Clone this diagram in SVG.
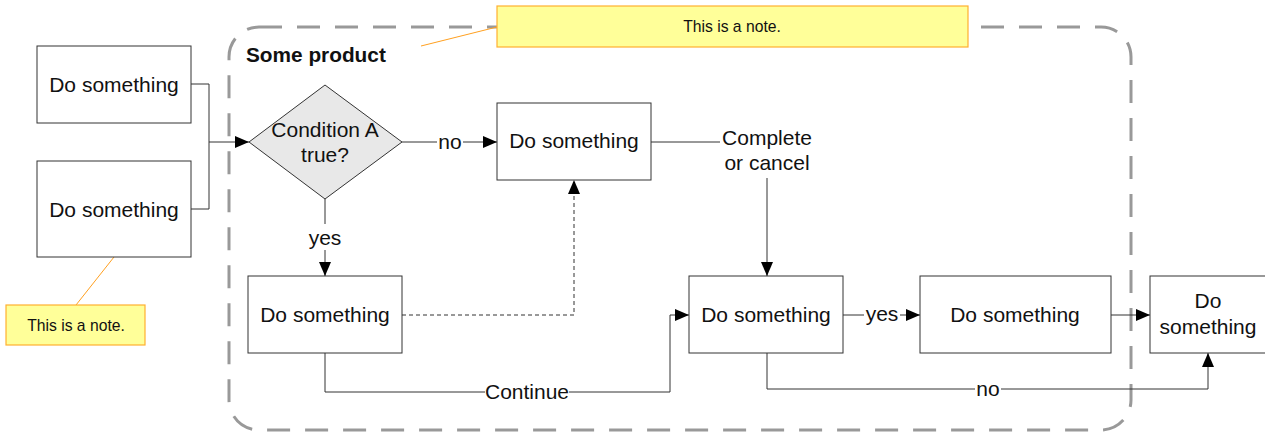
<svg xmlns="http://www.w3.org/2000/svg" width="1265" height="434" viewBox="0 0 1265 434">
<style>
.box{fill:#fff;stroke:#333;stroke-width:1}
.dia{fill:#e8e8e8;stroke:#333;stroke-width:1}
.note{fill:#ffff99;stroke:#ffb030;stroke-width:1.2}
.nl{fill:none;stroke:#ffa020;stroke-width:1}
.c{fill:none;stroke:#333;stroke-width:1}
.d{fill:none;stroke:#333;stroke-width:1;stroke-dasharray:4 3}
.t{font-family:"Liberation Sans",Arial,sans-serif;font-size:21px;fill:#111;text-anchor:middle}
.nt{font-family:"Liberation Sans",Arial,sans-serif;font-size:15.7px;fill:#111;text-anchor:middle}
.b{font-family:"Liberation Sans",Arial,sans-serif;font-size:20.8px;font-weight:bold;fill:#111}
.grp{fill:none;stroke:#999;stroke-width:3;stroke-dasharray:23 15}
</style>
<defs>
<marker id="a" viewBox="0 0 14 12" refX="14" refY="6" markerWidth="14" markerHeight="12" markerUnits="userSpaceOnUse" orient="auto">
<path d="M0,0 L14,6 L0,12 z" fill="#000"/>
</marker>
</defs>
<g id="container">
<rect class="grp" x="229" y="27" width="902" height="403" rx="30" ry="30"/>
<text class="b" x="246" y="62">Some product</text>
</g>
<g id="connectors">
<polyline class="c" points="191,84 209,84 209,209 191,209"/>
<line class="c" x1="209" y1="142" x2="249" y2="142" marker-end="url(#a)"/>
<line class="c" x1="402" y1="142" x2="437" y2="142"/>
<line class="c" x1="463" y1="142" x2="497" y2="142" marker-end="url(#a)"/>
<text class="t" x="450" y="149">no</text>
<line class="c" x1="325" y1="199" x2="325" y2="224"/>
<line class="c" x1="325" y1="250" x2="325" y2="276" marker-end="url(#a)"/>
<text class="t" x="325" y="245">yes</text>
<line class="c" x1="651" y1="142" x2="720" y2="142"/>
<text class="t" x="767" y="145">Complete</text>
<text class="t" x="767" y="170">or cancel</text>
<line class="c" x1="767" y1="178" x2="767" y2="276" marker-end="url(#a)"/>
<polyline class="d" points="402,315 574,315 574,180" marker-end="url(#a)"/>
<polyline class="c" points="325,353 325,392 485,392"/>
<polyline class="c" points="569,392 670,392 670,315 689,315" marker-end="url(#a)"/>
<text class="t" x="527" y="399">Continue</text>
<line class="c" x1="843" y1="315" x2="864" y2="315"/>
<line class="c" x1="900" y1="315" x2="920" y2="315" marker-end="url(#a)"/>
<text class="t" x="882" y="321">yes</text>
<line class="c" x1="1111" y1="315" x2="1150" y2="315" marker-end="url(#a)"/>
<polyline class="c" points="767,353 767,389 975,389"/>
<polyline class="c" points="1001,389 1208,389 1208,353" marker-end="url(#a)"/>
<text class="t" x="988" y="396">no</text>
<line class="nl" x1="421" y1="46" x2="497" y2="27"/>
<line class="nl" x1="114" y1="257" x2="76" y2="305"/>
</g>
<g id="n1"><rect class="box" x="37" y="46" width="154" height="77"/><text class="t" x="114" y="92">Do something</text></g>
<g id="n2"><rect class="box" x="37" y="161" width="154" height="96"/><text class="t" x="114" y="217">Do something</text></g>
<g id="cond"><polygon class="dia" points="249,142 325,85 402,142 325,199"/><text class="t" x="325" y="137">Condition A</text><text class="t" x="325" y="162">true?</text></g>
<g id="n3"><rect class="box" x="497" y="103" width="154" height="77"/><text class="t" x="574" y="148">Do something</text></g>
<g id="n4"><rect class="box" x="248" y="276" width="154" height="77"/><text class="t" x="325" y="322">Do something</text></g>
<g id="n5"><rect class="box" x="689" y="276" width="154" height="77"/><text class="t" x="766" y="322">Do something</text></g>
<g id="n6"><rect class="box" x="920" y="276" width="191" height="77"/><text class="t" x="1015" y="322">Do something</text></g>
<g id="n7"><rect class="box" x="1150" y="276" width="116" height="77"/><text class="t" x="1208" y="308">Do</text><text class="t" x="1208" y="334">something</text></g>
<g id="note1"><rect class="note" x="497" y="6" width="471" height="41"/><text class="nt" x="732" y="32">This is a note.</text></g>
<g id="note2"><rect class="note" x="6" y="305" width="139" height="40"/><text class="nt" x="76" y="331">This is a note.</text></g>
</svg>
